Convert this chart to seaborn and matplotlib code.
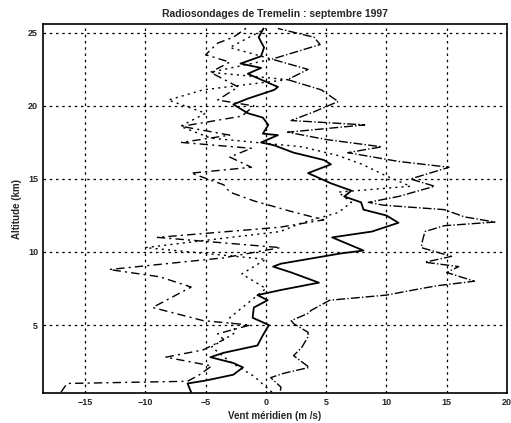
import matplotlib
matplotlib.use("Agg")
import matplotlib.pyplot as plt
import numpy as np
import pandas as pd
import seaborn as sns

# profils de vent meridien (m/s) en fonction de l'altitude (km)
alt_1 = [0.4, 1.0, 1.2, 1.6, 2.1, 2.4, 2.8, 3.1, 3.6, 4.3, 5.0, 5.5, 6.2, 6.7, 7.05, 7.4, 7.9, 8.6,
         9.0, 9.2, 9.9, 10.1, 11.0, 11.4, 12.0, 12.5, 12.9, 13.4, 13.8, 14.2, 14.7, 15.4, 16.0,
         16.3, 16.8, 17.3, 17.5, 18.0, 18.1, 18.7, 19.2, 19.5, 20.1, 20.5, 21.1, 21.3, 21.8, 22.2,
         22.6, 22.9, 23.4, 24.0, 24.7, 25.3]
vent_1 = [-6.2, -6.5, -5.0, -2.7, -1.9, -2.7, -4.6, -3.5, -0.7, -0.25, 0.25, -1.1, -1.0, 0.15, -0.7,
          1.25, 4.4, 2.1, 0.6, 1.25, 6.2, 8.1, 5.5, 8.8, 11.0, 10.0, 8.1, 7.9, 6.5, 7.1, 5.4, 3.5,
          5.4, 4.8, 2.3, 0.7, -0.4, 1.0, -0.25, 0.2, -0.25, -1.5, -2.7, -1.5, 0.7, 1.0, -0.4, -1.5,
          -0.4, -2.1, -0.4, -0.15, -0.6, -0.2]

alt_2 = [0.5, 0.75, 1.4, 1.7, 2.1, 2.9, 3.5, 4.2, 4.5, 5.1, 5.3, 5.8, 6.0, 6.7, 7.05, 7.5, 7.7, 8.0,
         8.6, 9.0, 9.3, 9.7, 10.3, 10.8, 11.4, 11.8, 12.05, 12.4, 12.9, 13.2, 13.4, 13.8, 14.5,
         15.0, 15.8, 16.2, 16.8, 17.2, 17.7, 18.2, 18.7, 19.0, 19.6, 20.3, 21.1, 21.8, 22.5, 23.2,
         23.6, 24.2, 24.7, 25.3]
vent_2 = [1.2, 1.25, 0.4, 1.5, 3.6, 2.3, 3.0, 3.5, 3.5, 2.3, 2.1, 3.5, 3.75, 5.3, 10.0, 12.9, 14.3,
          17.3, 15.0, 16.0, 13.2, 15.4, 12.9, 13.0, 13.2, 14.8, 19.0, 16.5, 14.8, 9.8, 8.5, 11.0,
          14.0, 12.0, 15.2, 11.0, 6.8, 9.6, 5.0, 1.8, 8.2, 2.1, 4.0, 6.0, 4.6, 1.8, 3.5, 0.5, 2.1,
          4.5, 4.0, 1.0]

alt_3 = [0.4, 1.0, 1.15, 1.6, 2.2, 2.8, 3.3, 4.0, 4.4, 5.0, 5.3, 6.2, 7.6, 8.3, 8.8, 9.6, 10.3, 11.0,
         11.7, 12.2, 12.8, 13.5, 14.1, 14.6, 15.4, 15.8, 16.5, 17.1, 17.5, 18.0, 18.6, 19.3, 20.0,
         20.4, 21.3, 22.3, 23.0, 23.5, 24.3, 24.7, 25.4]
vent_3 = [-17.0, -16.5, -6.5, -5.5, -4.5, -8.3, -5.2, -3.5, -4.0, -1.3, -5.2, -9.4, -6.2, -8.8,
          -13.0, -3.5, 1.2, -9.0, 1.2, 4.8, 2.0, -1.0, -3.0, -3.5, -6.2, -1.2, -3.0, -1.2, -7.0,
          -3.0, -7.0, -2.0, -1.0, -4.0, -2.3, -4.6, -3.0, -5.0, -4.0, -2.7, -1.5]

alt_4 = [0.4, 1.5, 2.5, 3.5, 4.5, 5.5, 6.5, 7.5, 8.5, 9.5, 10.3, 10.8, 11.4, 12.0, 12.7, 13.4, 14.1,
         14.5, 15.2, 16.0, 16.6, 17.2, 17.8, 18.6, 19.5, 20.4, 21.1, 21.8, 22.3, 23.2, 24.0, 25.3]
vent_4 = [0.5, -1.0, -3.0, -4.5, -2.5, -3.0, -1.5, 0.0, -2.0, 0.0, -10.0, -5.0, 1.2, 3.0, 6.0, 7.1,
          6.0, 12.0, 10.0, 8.0, 6.0, 3.0, -4.6, -7.1, -5.0, -8.1, -5.2, 1.8, -4.6, 0.5, -3.0, 0.0]

x_ticks = [-15, -10, -5, 0, 5, 10, 15, 20]
y_ticks = [5, 10, 15, 20, 25]

profils = [
    (alt_1, vent_1, "-", 1.3),
    (alt_2, vent_2, "-.", 1.0),
    (alt_3, vent_3, (0, (6, 3, 1.5, 3)), 1.0),
    (alt_4, vent_4, (0, (1.5, 3)), 1.0),
]

sns.set_style("white")
plt.rcParams["font.family"] = ["Liberation Sans", "DejaVu Sans"]

fig = plt.figure(figsize=(5.11, 4.23), dpi=100)
ax = fig.add_axes([0.084, 0.071, 0.908, 0.872])

for alt, vent, ls, lw in profils:
    df = pd.DataFrame({"vent": vent, "alt": alt})
    sns.lineplot(data=df, x="vent", y="alt", sort=False, estimator=None,
                 color="black", linestyle=ls, linewidth=lw, ax=ax)

ax.set_xlim(-18.5, 20)
ax.set_ylim(0.35, 25.6)
ax.set_xticks(x_ticks)
ax.set_yticks(y_ticks)
ax.grid(True, color="black", linestyle=(0, (2, 3)), linewidth=0.9)
ax.tick_params(direction="in", length=4, labelsize=6.5, width=0.8)
for lab in ax.get_xticklabels() + ax.get_yticklabels():
    lab.set_fontweight("bold")
for s in ax.spines.values():
    s.set_color("black")
    s.set_linewidth(1.2)

ax.set_xlabel("Vent méridien (m /s)", fontsize=7, fontweight="bold", labelpad=3)
ax.set_ylabel("Altitude (km)", fontsize=7, fontweight="bold", labelpad=4)
ax.set_title("Radiosondages de Tremelin : septembre 1997", fontsize=7.5,
             fontweight="bold", pad=5)

fig.savefig("out.png", dpi=100, facecolor="white")
